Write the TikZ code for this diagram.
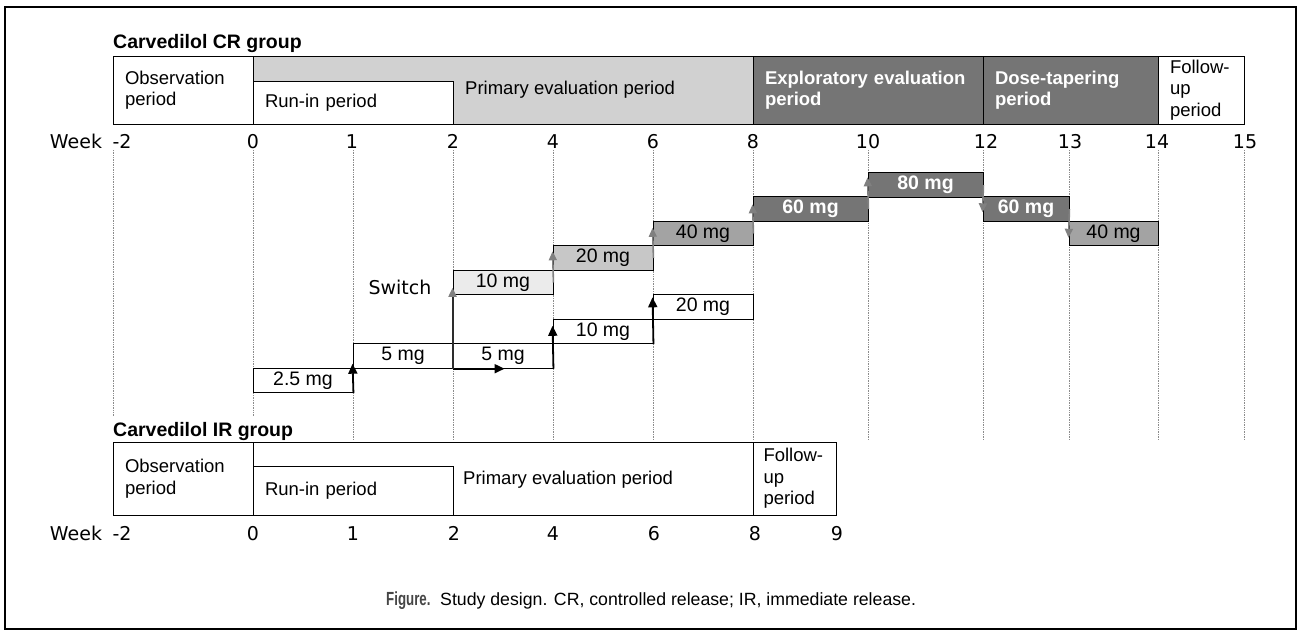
\documentclass[tikz,border=0pt]{standalone}
\usepackage{fontspec}
\usepackage{graphicx}
\setmainfont{Liberation Sans}
\newfontfamily\verd{DejaVu Sans}
\usetikzlibrary{arrows.meta, positioning, calc}
\definecolor{primfill}{gray}{0.82}
\definecolor{darkfill}{gray}{0.46}
\definecolor{midfill}{gray}{0.64}
\definecolor{lightfill}{gray}{0.78}
\definecolor{palefill}{gray}{0.92}
\definecolor{gridgray}{gray}{0.55}
\definecolor{arrgray}{gray}{0.5}
\tikzset{
  period/.style={draw, line width=0.9pt, minimum height=68pt, inner xsep=12pt, inner ysep=0pt, align=left, font=\fontsize{18.5}{21.5}\selectfont},
  darkp/.style={fill=darkfill, text=white, font=\bfseries\fontsize{18.5}{21.5}\selectfont},
  lbl/.style={inner sep=0pt, font=\fontsize{18.5}{21.5}\selectfont},
  dose/.style={draw, line width=0.9pt, minimum height=24.5pt, inner sep=0pt, font=\fontsize{19.5}{22}\selectfont},
  darkd/.style={fill=darkfill, text=white, font=\bfseries\fontsize{19.5}{22}\selectfont},
  wk/.style={inner sep=0pt, font=\verd\fontsize{19}{22}\selectfont},
  grp/.style={inner sep=0pt, anchor=base west, font=\bfseries\fontsize{19.5}{22}\selectfont},
  gridline/.style={gridgray, densely dotted, line width=0.7pt},
  blkarr/.style={line width=1.8pt, -{Triangle[length=10pt, width=9pt]}},
  gryarr/.style={arrgray, line width=1.6pt, -{Triangle[length=9pt, width=8pt]}},
  swarr/.style={gray!35!black, line width=2pt, -{Triangle[length=9pt, width=8pt, color=arrgray]}},
}
\begin{document}
\begin{tikzpicture}[x=1pt, y=-1pt]
  \useasboundingbox (0,0) rectangle (1301,632);
  \draw[line width=2pt] (5,7) rectangle (1296,629);

  % week grid
  \foreach \gx in {353,453,553,653,753,868,983,1069,1158,1244}
    \draw[gridline] (\gx,150) -- (\gx,440);
  \foreach \gx in {113,253}
    \draw[gridline] (\gx,150) -- (\gx,416);

  % CR group
  \node[grp] (crtitle) at (113,48) {Carvedilol CR group};
  \node[period, text width=116pt] (crobs) at (183,90) {Observation\\period};
  \node[period, fill=primfill, minimum width=500pt] (crprim) at (503,90) {};
  \node[period, fill=white, text width=176pt, minimum height=43pt] (crrun) at (353,102.5) {Run-in period};
  \node[lbl, anchor=west] (crprimlbl) at (465,90) {Primary evaluation period};
  \node[period, darkp, text width=206pt] (crexp) at (868,90) {Exploratory evaluation\\period};
  \node[period, darkp, text width=151pt] (crtap) at (1070.5,90) {Dose-tapering\\period};
  \node[period, text width=62pt] (crfol) at (1201,90) {Follow-\\up\\period};

  \node[wk, anchor=base] (crweek) at (76,148) {Week};
  \foreach \tx/\tl/\tn in {122/-2/m2, 253/0/0, 352/1/1, 453/2/2, 553/4/4, 653/6/6, 753/8/8,
      868/10/10, 986/12/12, 1070/13/13, 1157/14/14, 1245/15/15}
    \node[wk, anchor=base] (crw\tn) at (\tx,148) {\tl};

  % IR doses
  \node[dose, minimum width=100pt] (ir25) at (303,380.5) {2.5 mg};
  \node[dose, minimum width=100pt] (ir5a) at (403,356) {5 mg};
  \node[dose, minimum width=100pt] (ir5b) at (503,356) {5 mg};
  \node[dose, minimum width=100pt] (ir10) at (603,331.5) {10 mg};
  \node[dose, minimum width=100pt] (ir20) at (703,307) {20 mg};

  % CR doses
  \node[dose, fill=palefill, minimum width=100pt] (cr10) at (503,282.5) {10 mg};
  \node[dose, fill=lightfill, minimum width=100pt] (cr20) at (603,258) {20 mg};
  \node[dose, fill=midfill, minimum width=100pt] (cr40a) at (703,233.5) {40 mg};
  \node[dose, darkd, minimum width=115pt] (cr60a) at (810.5,209) {60 mg};
  \node[dose, darkd, minimum width=115pt] (cr80) at (925.5,185) {80 mg};
  \node[dose, darkd, minimum width=86pt] (cr60b) at (1026,209) {60 mg};
  \node[dose, fill=midfill, minimum width=89pt] (cr40b) at (1113.5,233.5) {40 mg};

  \node[wk] (switch) at (400,287) {Switch};

  % titration arrows
  \draw[blkarr] (ir25.south east) -- ($(ir5a.south west)+(0,-5)$);
  \draw[blkarr] (ir5b.south east) -- ($(ir10.north west)+(0,7)$);
  \draw[blkarr] (ir10.south east) -- ($(ir20.north west)+(0,3)$);
  \coordinate (swend) at ($(ir5b.south west)+(52,0)$);
  \draw[blkarr] (ir5b.south west) -- (swend);
  \draw[swarr] (ir5b.south west) -- ($(cr10.north west)+(0,18)$);
  \draw[gryarr] (cr10.east) -- ($(cr20.north west)+(0,6)$);
  \draw[gryarr] (cr20.east) -- ($(cr40a.north west)+(0,7)$);
  \draw[gryarr] (cr40a.east) -- ($(cr60a.north west)+(0,8)$);
  \draw[gryarr] (cr60a.east) -- ($(cr80.north west)+(0,5)$);
  \draw[gryarr] (cr80.east) -- ($(cr60b.north west)+(0,16)$);
  \draw[gryarr] (cr60b.east) -- ($(cr40b.north west)+(0,17)$);

  % IR group
  \node[grp] (irtitle) at (113,436) {Carvedilol IR group};
  \node[period, text width=116pt, minimum height=73pt] (irobs) at (183,478.5) {Observation\\period};
  \node[period, minimum width=500pt, minimum height=73pt] (irprim) at (503,478.5) {};
  \node[period, text width=176pt, minimum height=49pt] (irrun) at (353,490.5) {Run-in period};
  \node[lbl, anchor=west] (irprimlbl) at (463,480) {Primary evaluation period};
  \node[period, text width=62pt, inner xsep=10.5pt, minimum height=73pt] (irfol) at (794.5,478.5) {Follow-\\up\\period};

  \node[wk, anchor=base] (irweek) at (76,540) {Week};
  \foreach \tx/\tl/\tn in {122/-2/m2, 253/0/0, 353/1/1, 454/2/2, 553/4/4, 654/6/6, 755/8/8, 837/9/9}
    \node[wk, anchor=base] (irw\tn) at (\tx,540) {\tl};

  % caption
  \node[inner sep=0pt, anchor=base west, text=gray!55!black, font=\bfseries\fontsize{19}{22}\selectfont] (figlbl) at (386,605) {\scalebox{0.7}[1]{Figure.}};
  \node[inner sep=0pt, anchor=base west, font=\fontsize{17.7}{21}\selectfont] (figcap) at (440,605) {Study design. CR, controlled release; IR, immediate release.};
\end{tikzpicture}
\end{document}
